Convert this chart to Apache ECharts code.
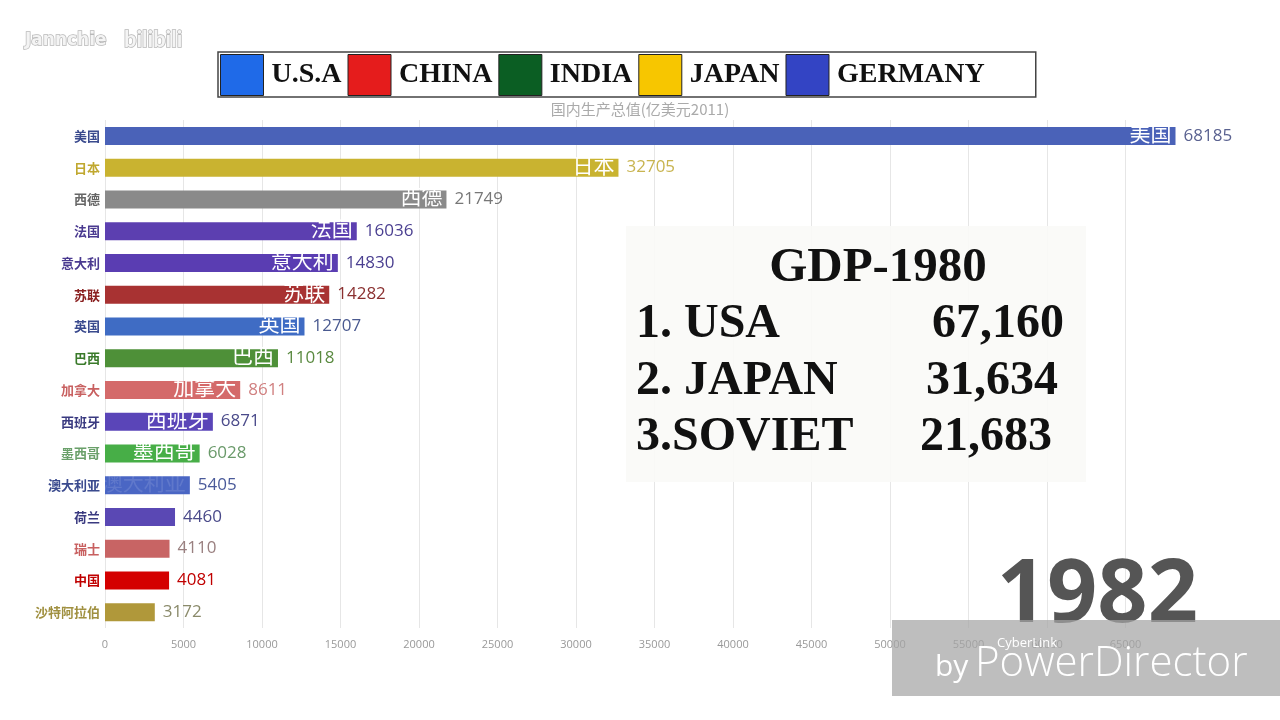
<!DOCTYPE html>
<html>
<head>
<meta charset="utf-8">
<script src="https://cdn.jsdelivr.net/npm/echarts@6/dist/echarts.min.js"></script>
<style>
  html, body { margin: 0; padding: 0; background: #fff; }
  #chart { width: 1280px; height: 720px; }
</style>
</head>
<body>
<div id="chart"></div>
<script>
// 1982 年各国国内生产总值
const countries = ["美国", "日本", "西德", "法国", "意大利", "苏联", "英国", "巴西", "加拿大", "西班牙", "墨西哥", "澳大利亚", "荷兰", "瑞士", "中国", "沙特阿拉伯"];
const gdp = [68185, 32705, 21749, 16036, 14830, 14282, 12707, 11018, 8611, 6871, 6028, 5405, 4460, 4110, 4081, 3172];
const legendNames = ["U.S.A", "CHINA", "INDIA", "JAPAN", "GERMANY"];
const rankLines = ["1. USA", "2. JAPAN", "3.SOVIET"];
const rankValues = ["67,160", "31,634", "21,683"];
const currentYear = "1982";

// 颜色
const barColors = ["#4a62b8", "#c9b330", "#8a8a8a", "#5c3fb0", "#5a3db2", "#a83232", "#3f6cc4", "#4e9038", "#d46a6a", "#5a45b8", "#47ae47", "#4a66c4", "#5a48b4", "#c86464", "#d40000", "#b0983a"];
const nameColors = ["#3a4a8e", "#c0a830", "#666666", "#4a3a90", "#4a3a90", "#8a2020", "#3a4a8e", "#3a7a2a", "#c86060", "#3a3a80", "#6aa06a", "#3a4a8e", "#3a3a80", "#c86060", "#c00000", "#a09040"];
const valueColors = ["#5a6290", "#c8b450", "#777777", "#4a3f90", "#4a3f90", "#8a3030", "#4a5a90", "#5a8a40", "#d08080", "#4a4a8a", "#6a9a6a", "#4a5a9a", "#4a4a8a", "#9a8080", "#c00000", "#8a8a6a"];
const legendColors = ["#1f6ae8", "#e51c1c", "#0b5e23", "#f7c600", "#3344c4"];
const fadedName = "澳大利亚";
// 柱子太短时不显示内部名称
const innerLabelMin = 5000;

const myChart = echarts.init(document.getElementById("chart"));

const legendSeries = legendNames.map((n, i) => ({
  name: n,
  type: "line",
  data: [],
  itemStyle: { color: legendColors[i] },
}));

const serifBold = { fontFamily: "Liberation Serif", fontWeight: "bold", fill: "#111" };

const option = {
  animation: false,
  backgroundColor: "#fff",
  title: {
    text: "国内生产总值(亿美元2011)",
    left: "center",
    top: 97,
    textStyle: { fontSize: 15, fontWeight: "normal", color: "#aaa", fontFamily: "Noto Sans CJK SC" },
  },
  legend: {
    data: legendNames,
    left: 218,
    top: 52,
    icon: "rect",
    itemWidth: 43,
    itemHeight: 41,
    itemGap: 6,
    padding: [2, 51, 1, 2],
    backgroundColor: "#fff",
    borderColor: "#444",
    borderWidth: 1.5,
    borderRadius: 0,
    itemStyle: { borderColor: "#222", borderWidth: 1 },
    textStyle: {
      fontFamily: "Liberation Serif",
      fontWeight: "bold",
      fontSize: 28,
      color: "#111",
      lineHeight: 28,
      padding: [6, 0, 0, 3],
    },
  },
  grid: { left: 105, right: 76, top: 120, bottom: 92 },
  xAxis: {
    type: "value",
    min: 0,
    max: 70000,
    interval: 5000,
    axisLine: { show: false },
    axisTick: { show: false },
    axisLabel: {
      color: "#999",
      fontSize: 11,
      margin: 11,
      showMaxLabel: false,
      fontFamily: "Open Sans",
      formatter: (v) => String(v),
    },
    splitLine: { showMaxLine: false, lineStyle: { color: "#e6e6e6" } },
  },
  yAxis: {
    type: "category",
    inverse: true,
    data: countries,
    axisLine: { show: false },
    axisTick: { show: false },
    axisLabel: {
      fontSize: 13,
      fontWeight: "bold",
      margin: 5,
      fontFamily: "Noto Sans CJK SC",
      color: (v, i) => nameColors[i],
    },
  },
  series: [
    {
      type: "bar",
      barWidth: 18,
      data: gdp.map((v, i) => ({
        value: v,
        itemStyle: { color: barColors[i] },
        label: { color: valueColors[i] },
      })),
      label: {
        show: true,
        position: "right",
        distance: 8,
        fontSize: 17,
        fontFamily: "Open Sans",
      },
    },
    {
      type: "bar",
      barWidth: 18,
      barGap: "-100%",
      z: 3,
      silent: true,
      itemStyle: { color: "rgba(0,0,0,0)" },
      data: gdp.map((v, i) => ({
        value: v,
        label: {
          show: v >= innerLabelMin,
          color: countries[i] === fadedName ? "rgba(255,255,255,0.12)" : "#fff",
        },
      })),
      label: {
        show: true,
        position: "insideRight",
        distance: 4,
        formatter: "{b}",
        fontSize: 21,
        fontFamily: "Noto Sans CJK SC",
        offset: [0, -3],
      },
    },
    ...legendSeries,
  ],
  graphic: [
    // 1980 排名框
    {
      type: "rect",
      shape: { x: 626, y: 226, width: 460, height: 256 },
      style: { fill: "rgba(250,250,247,0.9)" },
      z: 10,
    },
    {
      type: "text",
      x: 878,
      y: 268,
      z: 11,
      style: Object.assign({ text: "GDP-1980", fontSize: 49, align: "center", verticalAlign: "middle" }, serifBold),
    },
    ...rankLines.map((t, i) => ({
      type: "text",
      x: 636,
      y: 325 + i * 56.5,
      z: 11,
      style: Object.assign({ text: t, fontSize: 48, align: "left", verticalAlign: "middle" }, serifBold),
    })),
    ...rankValues.map((t, i) => ({
      type: "text",
      x: 1064 - i * 6,
      y: 325 + i * 56.5,
      z: 11,
      style: Object.assign({ text: t, fontSize: 48, align: "right", verticalAlign: "middle" }, serifBold),
    })),
    // 年份
    {
      type: "text",
      x: 1198,
      y: 597,
      z: 11,
      style: {
        text: currentYear,
        fontSize: 88,
        fontWeight: "bold",
        fontFamily: "Open Sans",
        fill: "#555",
        align: "right",
        verticalAlign: "middle",
      },
    },
    // 水印
    {
      type: "rect",
      shape: { x: 892, y: 620, width: 388, height: 76 },
      style: { fill: "rgba(165,165,165,0.72)" },
      z: 20,
    },
    {
      type: "text",
      x: 997,
      y: 643,
      z: 21,
      style: { text: "CyberLink", fontSize: 13, fill: "#fff", fontFamily: "Open Sans", verticalAlign: "middle" },
    },
    {
      type: "text",
      x: 935,
      y: 667,
      z: 21,
      style: { text: "by", fontSize: 30, fill: "#fff", fontFamily: "Open Sans", verticalAlign: "middle" },
    },
    {
      type: "text",
      x: 975,
      y: 664,
      z: 21,
      style: { text: "PowerDirector", fontSize: 42, fill: "#fff", fontFamily: "Open Sans", fontWeight: 300, verticalAlign: "middle" },
    },
    {
      type: "text",
      x: 25,
      y: 41,
      z: 21,
      style: {
        text: "Jannchie",
        fontSize: 17,
        fontWeight: "bold",
        fontFamily: "DejaVu Sans",
        fill: "#f4f4f4",
        stroke: "#b8b8b8",
        lineWidth: 1.5,
        verticalAlign: "middle",
      },
    },
    {
      type: "text",
      x: 124,
      y: 40,
      z: 21,
      style: {
        text: "bilibili",
        fontSize: 22,
        fontWeight: "bold",
        fontFamily: "Lato",
        fill: "#f4f4f4",
        stroke: "#b8b8b8",
        lineWidth: 1.5,
        verticalAlign: "middle",
      },
    },
  ],
};

myChart.setOption(option, true);

window.addEventListener("resize", () => {
  myChart.resize();
});
</script>
</body>
</html>
